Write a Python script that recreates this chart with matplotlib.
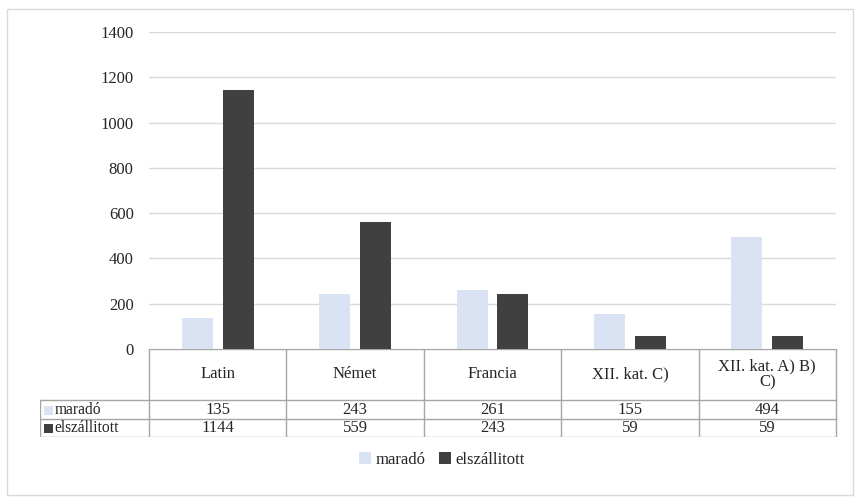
import matplotlib
matplotlib.use("Agg")
import matplotlib.pyplot as plt
from matplotlib.patches import Patch, Rectangle

plt.rcParams['font.family'] = ['Liberation Serif', 'DejaVu Serif']

categories = ["Latin", "Német", "Francia", "XII. kat. C)", "XII. kat. A) B)\nC)"]
series_names = ["maradó", "elszállitott"]
marado = [135, 243, 261, 155, 494]
elszallitott = [1144, 559, 243, 59, 59]
colors = ["#DAE3F3", "#404040"]

W, H = 861, 504
fig = plt.figure(figsize=(W / 100, H / 100), dpi=100)

# chart frame
fig.patches.append(Rectangle((7 / W, 9 / H), 846 / W, 486 / H, transform=fig.transFigure,
                             fill=False, edgecolor="#D9D9D9", lw=1))

# plot area in pixel units
px_l, px_r, px_top, px_zero = 149, 836, 32, 349
ax = fig.add_axes([px_l / W, (H - px_zero) / H, (px_r - px_l) / W, (px_zero - px_top) / H])
ax.set_xlim(0, len(categories))
ax.set_ylim(0, 1400)
ax.set_yticks(range(0, 1401, 200))
ax.set_xticks([])
ax.tick_params(axis="y", length=0, pad=11, labelsize=12, colors="#262626")
for s in ax.spines.values():
    s.set_visible(False)
ax.grid(axis="y", color="#D9D9D9", lw=1)
ax.set_axisbelow(True)

bw = 0.226
off = 0.149
for i in range(len(categories)):
    ax.bar(i + 0.5 - off, marado[i], width=bw, color=colors[0])
    ax.bar(i + 0.5 + off, elszallitott[i], width=bw, color=colors[1])

# data table below the plot
tab_l, tab_bot = 40, 437
colw = (px_r - px_l) / len(categories)
tax = fig.add_axes([tab_l / W, (H - tab_bot) / H, (px_r + 2 - tab_l) / W, (tab_bot - px_zero) / H])
tax.set_xlim(-(px_l - tab_l) / colw, len(categories) + 2 / colw)
tax.set_ylim(tab_bot, px_zero)
tax.axis("off")

row_y = [349, 400, 419, 437]
lc = "#A6A6A6"
xl = -(px_l - tab_l) / colw
xr = len(categories)
# horizontal lines
tax.plot([0, xr], [row_y[0]] * 2, color=lc, lw=1)
for y in row_y[1:]:
    tax.plot([xl, xr], [y, y], color=lc, lw=1)
# vertical lines
tax.plot([xl, xl], [row_y[1], row_y[3]], color=lc, lw=1)
for i in range(len(categories) + 1):
    tax.plot([i, i], [row_y[0], row_y[3]], color=lc, lw=1)

fs = 12
for i, c in enumerate(categories):
    tax.text(i + 0.5, (row_y[0] + row_y[1]) / 2, c, ha="center", va="center",
             fontsize=fs, color="#262626", linespacing=1.0)
    tax.text(i + 0.5, (row_y[1] + row_y[2]) / 2 + 0.5, str(marado[i]), ha="center", va="center",
             fontsize=fs, color="#262626")
    tax.text(i + 0.5, (row_y[2] + row_y[3]) / 2 + 0.5, str(elszallitott[i]), ha="center", va="center",
             fontsize=fs, color="#262626")

# series keys in the row header column
for r, (name, col) in enumerate(zip(series_names, colors)):
    yc = (row_y[r + 1] + row_y[r + 2]) / 2 + 0.5
    tax.add_patch(Rectangle((xl + 0.03, yc - 4.5), 0.065, 9, facecolor=col, edgecolor="none"))
    tax.text(xl + 0.105, yc, name, ha="left", va="center", fontsize=11.2, color="#262626")

handles = [Patch(facecolor=c, edgecolor="none") for c in colors]
fig.legend(handles, series_names, loc="center", bbox_to_anchor=(442 / W, (H - 460) / H),
           ncol=2, frameon=False, fontsize=fs, handlelength=0.7, handleheight=0.7,
           handletextpad=0.3, columnspacing=0.8, labelcolor="#262626")

fig.savefig("out.png", dpi=100)
